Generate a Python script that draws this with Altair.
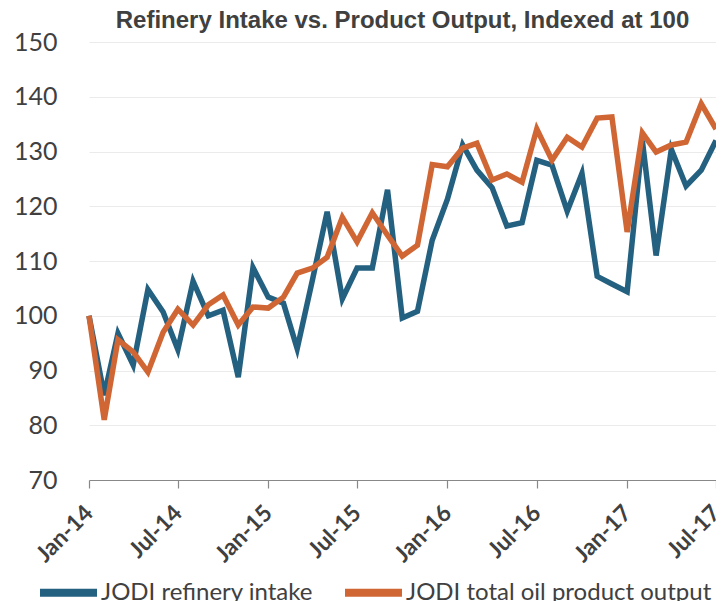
import altair as alt
import pandas as pd

months = [d.strftime("%Y-%m-%d") for d in pd.date_range("2014-01-01", periods=43, freq="MS")]

refinery_intake = [100, 85.5, 96.8, 91, 104.8, 100.7, 93.8, 106.3, 100, 101, 88.8, 108.8,
                   103.4, 102.3, 94, 106.5, 119, 103.1, 108.7, 108.7, 123, 99.6, 100.8, 113.8,
                   121.3, 131.2, 126.6, 123.4, 116.4, 117, 128.4, 127.5, 119.1, 126, 107.2, 105.8,
                   104.4, 132, 111, 130.4, 123.7, 126.6, 132]

product_output = [100, 81, 95.6, 93.4, 89.7, 97, 101.2, 98.3, 102, 103.8, 98.3, 101.6,
                  101.4, 103.4, 107.8, 108.7, 110.7, 118, 113.5, 118.8, 114.7, 110.9, 112.9, 127.6,
                  127.2, 130.6, 131.5, 124.8, 125.9, 124.4, 134.1, 128.4, 132.6, 130.8, 136.1, 136.3,
                  115.3, 133.4, 129.9, 131.2, 131.7, 138.7, 134.1]

series_names = ["JODI refinery intake", "JODI total oil product output"]
series_colors = ["#246080", "#D06634"]
y_ticks = [70, 80, 90, 100, 110, 120, 130, 140, 150]
tick_dates = [(2014, 1), (2014, 7), (2015, 1), (2015, 7), (2016, 1), (2016, 7), (2017, 1), (2017, 7)]

rows = []
for m, a, b in zip(months, refinery_intake, product_output):
    rows.append({"date": m, "series": series_names[0], "value": a})
    rows.append({"date": m, "series": series_names[1], "value": b})
df = pd.DataFrame(rows)

tick_values = [alt.DateTime(year=y, month=mo, date=1, utc=True) for y, mo in tick_dates]

x_enc = alt.X(
    "date:T",
    scale=alt.Scale(type="utc",
                    domain=[alt.DateTime(year=2014, month=1, date=1, utc=True),
                            alt.DateTime(year=2017, month=7, date=1, utc=True)]),
    axis=alt.Axis(values=tick_values, format="%b-%y", title=None, grid=False,
                  labelAngle=315, labelAlign="right", labelBaseline="middle",
                  labelPadding=21, labelFont="Lato", labelFontSize=23, labelFontWeight="bold",
                  labelColor="#404040", domainColor="#888888", tickColor="#888888",
                  tickSize=8, domainWidth=1.2, tickWidth=1.2, labelOverlap=False),
)
y_enc = alt.Y(
    "value:Q",
    scale=alt.Scale(domain=[70, 150], nice=False, zero=False),
    axis=alt.Axis(values=y_ticks, title=None, domain=False, ticks=False,
                  gridColor="#EBEBEB", gridWidth=1, labelFont="Lato", labelFontSize=25,
                  labelColor="#404040", labelPadding=32),
)
color_enc = alt.Color(
    "series:N",
    scale=alt.Scale(domain=series_names, range=series_colors),
    legend=alt.Legend(title=None, orient="none", direction="horizontal",
                      legendX=-53, legendY=518, symbolType="stroke",
                      symbolSize=3249, symbolStrokeWidth=8, labelFont="Lato",
                      labelFontSize=24, labelColor="#404040", labelOffset=0,
                      columnPadding=15, labelLimit=500),
)

base = alt.Chart(df)
layers = []
for name in series_names:
    layers.append(
        base.transform_filter(alt.datum.series == name)
        .mark_line(strokeWidth=5.5)
        .encode(x=x_enc, y=y_enc, color=color_enc)
    )

chart = alt.layer(*layers).properties(
    width=627,
    height=438,
    autosize=alt.AutoSizeParams(type="none"),
    padding={"left": 81, "top": 34, "right": 0, "bottom": 121},
    title=alt.TitleParams("Refinery Intake vs. Product Output, Indexed at 100",
                          font="Liberation Sans", fontSize=24, fontWeight="bold",
                          color="#404040", anchor="middle", frame="group", offset=-3),
).configure_view(stroke=None)

chart.save("out.html", embed_options={"renderer": "svg", "actions": False})
